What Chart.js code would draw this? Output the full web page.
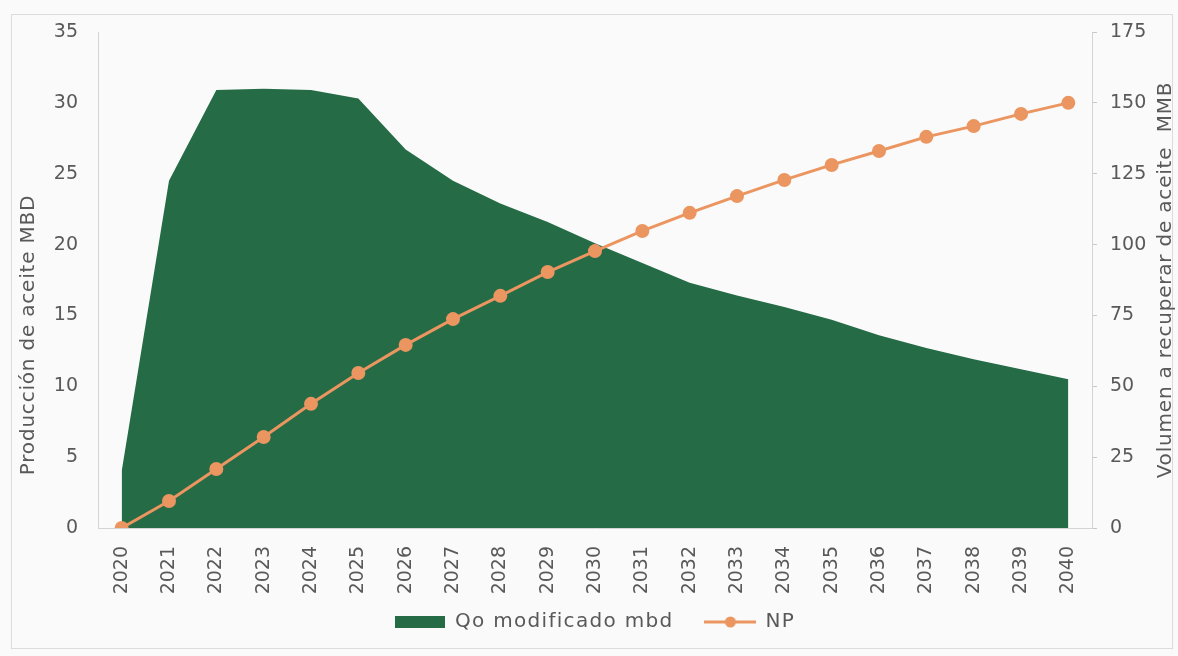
<!DOCTYPE html>
<html lang="es">
<head>
<meta charset="utf-8">
<title>Producción de aceite y volumen a recuperar</title>
<script src="https://cdn.jsdelivr.net/npm/chart.js@4.4.1/dist/chart.umd.min.js"></script>
<style>
  html, body { margin: 0; padding: 0; background: #f7f7f7; }
  #wrap { width: 1178px; height: 656px; }
</style>
</head>
<body>
<div id="wrap"><canvas id="chart" width="1178" height="656"></canvas></div>
<script>
// Years on the category axis
const years = ['2020','2021','2022','2023','2024','2025','2026','2027','2028','2029','2030',
               '2031','2032','2033','2034','2035','2036','2037','2038','2039','2040'];

// Oil production, thousand barrels per day (left axis)
const qoModificado = [4.0, 24.5, 30.9, 31.0, 30.9, 30.3, 26.7, 24.5, 22.9, 21.6, 20.1,
                      18.7, 17.3, 16.4, 15.6, 14.7, 13.6, 12.7, 11.9, 11.2, 10.5];

// Cumulative recovered volume, million barrels (right axis)
const np = [0, 9.5, 20.8, 32.1, 43.8, 54.7, 64.6, 73.7, 81.9, 90.3, 97.7,
            104.8, 111.2, 117.1, 122.8, 128.1, 133.0, 138.0, 141.8, 146.1, 150.0];

// Axis ranges and titles
const leftTicks = { min: 0, max: 35, step: 5 };
const rightTicks = { min: 0, max: 175, step: 25 };
const leftTitle = 'Producción de aceite MBD';
const rightTitle = 'Volumen a recuperar de aceite  MMB';
const seriesNames = ['Qo modificado mbd', 'NP'];

const GREEN = '#256b46';
const ORANGE = '#eb9560';
const TEXT = '#595959';
const AXIS = '#d4d4d4';
const FONT = "'DejaVu Sans', sans-serif";

// Legend swatches: a wide green block and a line with a dot
function makeSwatch(w, h, draw) {
  const c = document.createElement('canvas');
  c.width = w; c.height = h;
  draw(c.getContext('2d'), w, h);
  return c;
}
const greenSwatch = makeSwatch(50, 12, (g, w, h) => { g.fillStyle = GREEN; g.fillRect(0, 0, w, h); });
const npSwatch = makeSwatch(52, 14, (g, w, h) => {
  g.strokeStyle = ORANGE; g.lineWidth = 3;
  g.beginPath(); g.moveTo(0, h / 2); g.lineTo(w, h / 2); g.stroke();
  g.fillStyle = ORANGE; g.beginPath(); g.arc(w / 2, h / 2, 5.5, 0, Math.PI * 2); g.fill();
});
const swatches = [greenSwatch, npSwatch];

// Run a legend method with a little extra letter spacing
function spaced(fn, spacing) {
  return function (...args) {
    const c = this.ctx;
    const prev = c.letterSpacing;
    c.letterSpacing = spacing;
    const out = fn.apply(this, args);
    c.letterSpacing = prev;
    return out;
  };
}

// Background, outer frame and the two vertical axis titles
const frame = {
  id: 'frame',
  afterInit(chart) {
    const lg = chart.legend;
    if (lg) {
      lg.fit = spaced(lg.fit, '1.3px');
      lg.draw = spaced(lg.draw, '1.3px');
    }
  },
  beforeDraw(chart) {
    const ctx = chart.ctx;
    ctx.save();
    ctx.fillStyle = '#fafafa';
    ctx.fillRect(0, 0, chart.width, chart.height);
    ctx.strokeStyle = '#dcdcdc';
    ctx.lineWidth = 1;
    ctx.strokeRect(11.5, 14.5, 1161, 634);
    ctx.restore();
  },
  afterDraw(chart) {
    const ctx = chart.ctx;
    ctx.save();
    ctx.font = '20px ' + FONT;
    ctx.letterSpacing = '0.8px';
    ctx.fillStyle = TEXT;
    ctx.textAlign = 'center';
    ctx.textBaseline = 'middle';
    const drawV = (text, x, y) => {
      ctx.save(); ctx.translate(x, y); ctx.rotate(-Math.PI / 2);
      ctx.fillText(text, 0, 0); ctx.restore();
    };
    const area = chart.chartArea;
    drawV(leftTitle, 29, 335);
    drawV(rightTitle, 1166, (area.top + area.bottom) / 2);
    ctx.restore();
  }
};

const defaultLabels = Chart.defaults.plugins.legend.labels.generateLabels;

new Chart(document.getElementById('chart'), {
  type: 'line',
  data: {
    labels: years,
    datasets: [
      {
        label: seriesNames[0],
        data: qoModificado,
        yAxisID: 'y',
        fill: 'origin',
        backgroundColor: GREEN,
        borderColor: GREEN,
        borderWidth: 0,
        pointRadius: 0,
        tension: 0,
        order: 2
      },
      {
        label: seriesNames[1],
        data: np,
        yAxisID: 'y1',
        fill: false,
        borderColor: ORANGE,
        backgroundColor: ORANGE,
        borderWidth: 3,
        pointRadius: 7,
        pointBackgroundColor: ORANGE,
        pointBorderWidth: 0,
        tension: 0,
        order: 1
      }
    ]
  },
  options: {
    responsive: false,
    devicePixelRatio: 1,
    animation: false,
    layout: { padding: { top: 32, left: 0, right: 0, bottom: 14 } },
    plugins: {
      tooltip: { enabled: false },
      legend: {
        position: 'bottom',
        fullSize: false,
        labels: {
          usePointStyle: true,
          pointStyleWidth: 50,
          boxHeight: 12,
          padding: 32,
          color: TEXT,
          font: { family: FONT, size: 20 },
          sort: (a, b) => a.datasetIndex - b.datasetIndex,
          generateLabels(chart) {
            const items = defaultLabels(chart);
            items.forEach(it => { it.pointStyle = swatches[it.datasetIndex]; });
            return items;
          }
        }
      }
    },
    scales: {
      x: {
        offset: true,
        grid: { display: true, drawOnChartArea: false, drawTicks: false },
        border: { display: true, color: AXIS, width: 1 },
        ticks: {
          minRotation: 90, maxRotation: 90, autoSkip: false, padding: 18,
          color: TEXT, font: { family: FONT, size: 19 }
        },
        afterFit(scale) {
          scale.height = 52;
          // year labels run below the reserved band, so do not clip them to it
          scale._computeLabelArea = () => undefined;
        }
      },
      y: {
        position: 'left',
        min: leftTicks.min, max: leftTicks.max,
        grid: { display: true, drawOnChartArea: false, drawTicks: false },
        border: { display: true, color: AXIS, width: 1 },
        ticks: { stepSize: leftTicks.step, padding: 20, color: TEXT, font: { family: FONT, size: 19 } },
        afterFit(scale) { scale.width = 98; }
      },
      y1: {
        position: 'right',
        min: rightTicks.min, max: rightTicks.max,
        grid: { display: true, drawOnChartArea: false, drawTicks: true, tickLength: 5, color: '#c8c8c8' },
        border: { display: true, color: AXIS, width: 1 },
        ticks: { stepSize: rightTicks.step, padding: 13, color: TEXT, font: { family: FONT, size: 19 } },
        afterFit(scale) { scale.width = 86; }
      }
    }
  },
  plugins: [frame]
});
</script>
</body>
</html>
